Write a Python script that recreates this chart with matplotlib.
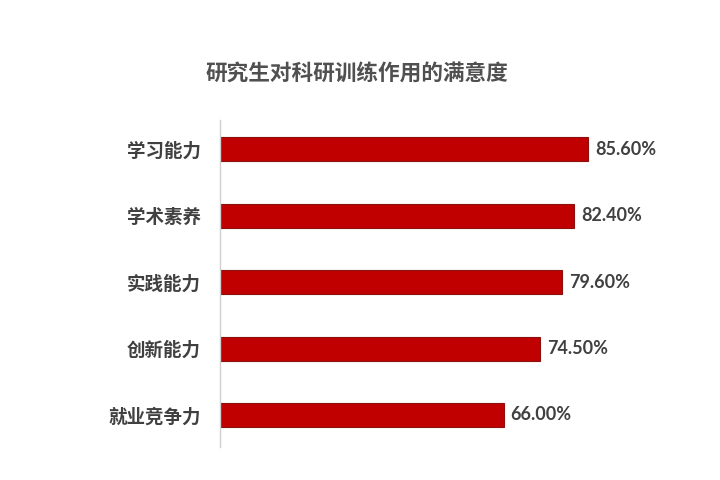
import matplotlib.pyplot as plt

plt.rcParams['font.family'] = ['Noto Sans CJK SC', 'DejaVu Sans']

# 数据
categories = ['学习能力', '学术素养', '实践能力', '创新能力', '就业竞争力']
values = [85.6, 82.4, 79.6, 74.5, 66.0]
value_labels = ['85.60%', '82.40%', '79.60%', '74.50%', '66.00%']

fig = plt.figure(figsize=(7.2, 4.8), dpi=100)
ax = fig.add_axes([0.3056, 0.069, 0.5972, 0.681])

pos = list(range(len(categories)))
ax.barh(pos, values, height=0.36, color='#C00000', edgecolor='#8B1010', linewidth=0.8)

for p, v, lab in zip(pos, values, value_labels):
    ax.text(v + 1.6, p, lab, va='center', ha='left', fontsize=13,
            color='#404040', family=['Lato', 'Noto Sans CJK SC'], fontweight='bold')

ax.set_xlim(0, 100)
ax.set_ylim(4.48, -0.44)
ax.set_yticks(pos)
ax.set_yticklabels(categories, fontsize=13.3, color='#404040', fontweight='bold')
ax.tick_params(axis='y', length=0, pad=14)
ax.set_xticks([])

for s in ['top', 'right', 'bottom']:
    ax.spines[s].set_visible(False)
ax.spines['left'].set_color('#D0D0D0')
ax.spines['left'].set_linewidth(1)

fig.text(0.496, 0.845, '研究生对科研训练作用的满意度', ha='center', va='center',
         fontsize=15.6, color='#505050', fontweight='bold')

fig.savefig('out.png', dpi=100)
